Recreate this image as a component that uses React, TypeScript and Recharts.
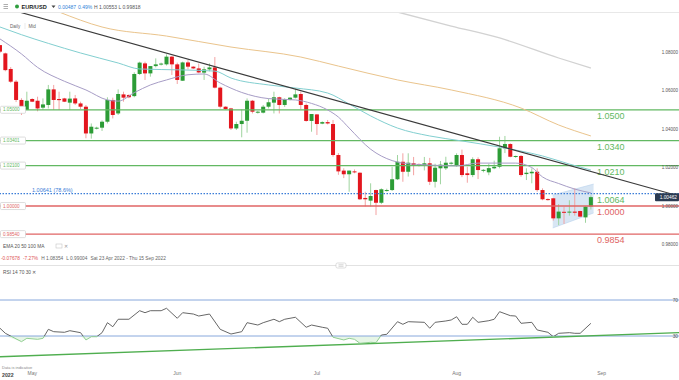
import React from 'react';
import { ComposedChart, Bar, Line, Area, XAxis, YAxis, ReferenceLine } from 'recharts';

// session index: 0 = Sun 24 Apr 2022, six sessions a week (Sun-Fri)
const opens = [
  1.0836, 1.0793, 1.0712, 1.0646, 1.0551, 1.0499, 1.0556, 1.0547, 1.0511, 1.0525,
  1.0606, 1.0556, 1.0559, 1.0537, 1.0559, 1.0533, 1.0516, 1.0377, 1.0405, 1.0407,
  1.0438, 1.0551, 1.0481, 1.0580, 1.0577, 1.0571, 1.0686, 1.0741, 1.0689, 1.0727,
  1.0735, 1.0736, 1.0776, 1.0736, 1.0651, 1.0746, 1.0724, 1.0715, 1.0693, 1.0710,
  1.0720, 1.0615, 1.0516, 1.0507, 1.0403, 1.0426, 1.0443, 1.0547, 1.0485, 1.0485,
  1.0516, 1.0537, 1.0565, 1.0525, 1.0551, 1.0563, 1.0582, 1.0525, 1.0442, 1.0476,
  1.0428, 1.0436, 1.0426, 1.0265, 1.0184, 1.0165, 1.0180, 1.0173, 1.0042, 1.0028,
  1.0083, 1.0017, 1.0078, 1.0083, 1.0139, 1.0230, 1.0178, 1.0222, 1.0218, 1.0210,
  1.0222, 1.0126, 1.0196, 1.0196, 1.0222, 1.0213, 1.0265, 1.0170, 1.0161, 1.0243,
  1.0185, 1.0175, 1.0196, 1.0204, 1.0300, 1.0322, 1.0256, 1.0260, 1.0166, 1.0170,
  1.0178, 1.0083, 1.0036, 1.0040, 0.9936, 0.9970, 0.9966, 0.9971, 0.9974, 0.9941,
  0.99975,
];
const highs = [
  1.08354, 1.0797, 1.0722, 1.0655, 1.0560, 1.0594, 1.0560, 1.0568, 1.0559, 1.0629,
  1.0629, 1.0594, 1.0562, 1.0594, 1.0577, 1.0542, 1.0525, 1.0429, 1.0412, 1.0445,
  1.0565, 1.0563, 1.0606, 1.0594, 1.0580, 1.0695, 1.0750, 1.0750, 1.0727, 1.0767,
  1.0745, 1.0788, 1.0780, 1.0745, 1.0750, 1.0758, 1.0726, 1.0740, 1.0724, 1.0741,
  1.0774, 1.0620, 1.0518, 1.0510, 1.0438, 1.0502, 1.0559, 1.0551, 1.0495, 1.0525,
  1.0559, 1.0594, 1.0568, 1.0560, 1.0565, 1.0611, 1.0594, 1.0533, 1.0478, 1.0478,
  1.0440, 1.0447, 1.0447, 1.0275, 1.0196, 1.0184, 1.0190, 1.0175, 1.0074, 1.0118,
  1.0085, 1.0092, 1.0090, 1.0204, 1.0265, 1.0274, 1.0274, 1.0255, 1.0222, 1.0255,
  1.0250, 1.0220, 1.0234, 1.0256, 1.0230, 1.0274, 1.0293, 1.0204, 1.0253, 1.0253,
  1.0192, 1.0220, 1.0236, 1.0360, 1.0364, 1.0326, 1.0262, 1.0265, 1.0196, 1.0196,
  1.0196, 1.0092, 1.0040, 1.0042, 1.0010, 0.9996, 1.0030, 1.0092, 0.9976, 1.0000,
  1.00553,
];
const lows = [
  1.0795, 1.0700, 1.0640, 1.0540, 1.0473, 1.0499, 1.0540, 1.0492, 1.0499, 1.0507,
  1.0499, 1.0499, 1.0540, 1.0499, 1.0525, 1.0504, 1.0352, 1.0350, 1.0398, 1.0390,
  1.0429, 1.0455, 1.0473, 1.0542, 1.0560, 1.0565, 1.0681, 1.0655, 1.0672, 1.0720,
  1.0730, 1.0730, 1.0681, 1.0634, 1.0650, 1.0710, 1.0712, 1.0690, 1.0655, 1.0700,
  1.0611, 1.0507, 1.0500, 1.0395, 1.0395, 1.0357, 1.0381, 1.0481, 1.0480, 1.0481,
  1.0507, 1.0481, 1.0481, 1.0515, 1.0549, 1.0559, 1.0502, 1.0438, 1.0386, 1.0369,
  1.0425, 1.0424, 1.0256, 1.0162, 1.0145, 1.0074, 1.0170, 1.0031, 0.9998, 0.9997,
  0.9953, 1.0010, 1.0075, 1.0078, 1.0135, 1.0126, 1.0153, 1.0160, 1.0205, 1.0185,
  1.0109, 1.0096, 1.0113, 1.0187, 1.0215, 1.0204, 1.0150, 1.0121, 1.0150, 1.0140,
  1.0175, 1.0160, 1.0191, 1.0196, 1.0275, 1.0253, 1.0250, 1.0152, 1.0135, 1.0118,
  1.0074, 1.0030, 1.0028, 0.9924, 0.99004, 0.9907, 0.9950, 0.9950, 0.9942, 0.9913,
  0.99818,
];
const closes = [
  1.0802, 1.0706, 1.0646, 1.0551, 1.0516, 1.0547, 1.0542, 1.0507, 1.0528, 1.0606,
  1.0551, 1.0550, 1.0542, 1.0558, 1.0533, 1.0516, 1.0377, 1.0412, 1.0407, 1.0438,
  1.0551, 1.0473, 1.0582, 1.0563, 1.0565, 1.0686, 1.0745, 1.0689, 1.0727, 1.0736,
  1.0740, 1.0776, 1.0736, 1.0655, 1.0746, 1.0724, 1.0715, 1.0694, 1.0710, 1.0720,
  1.0615, 1.0516, 1.0504, 1.0403, 1.0426, 1.0443, 1.0547, 1.0490, 1.0490, 1.0516,
  1.0539, 1.0565, 1.0525, 1.0554, 1.0563, 1.0580, 1.0525, 1.0442, 1.0478, 1.0426,
  1.0436, 1.0429, 1.0265, 1.0180, 1.0165, 1.0184, 1.0175, 1.0035, 1.0035, 1.0052,
  1.0017, 1.0087, 1.0083, 1.0139, 1.0230, 1.0178, 1.0225, 1.0213, 1.0210, 1.0222,
  1.0126, 1.0199, 1.0215, 1.0225, 1.0225, 1.0265, 1.0161, 1.0161, 1.0243, 1.0187,
  1.0188, 1.0197, 1.0204, 1.0300, 1.0322, 1.0256, 1.0260, 1.0161, 1.0173, 1.0178,
  1.0083, 1.0035, 1.0031, 0.9936, 0.9971, 0.9965, 0.9971, 0.9965, 0.9945, 0.9997,
  1.00462,
];

// moving averages, read at a few sessions
const ema20Idx = [0, 4, 7, 12, 16, 20, 22, 25, 28, 31, 35, 38, 41, 45, 50, 55, 58, 61, 63, 65, 69, 73, 75, 80, 85, 89, 96, 99, 101, 104, 107, 110];
const ema20Val = [1.0868, 1.0790, 1.0720, 1.0648, 1.0603, 1.0551, 1.0545, 1.0589, 1.0629, 1.0655, 1.0682, 1.0686, 1.0639, 1.0590, 1.0558, 1.0551, 1.0533, 1.0499, 1.0462, 1.0405, 1.0295, 1.0236, 1.0223, 1.0213, 1.0208, 1.0223, 1.0223, 1.0200, 1.0151, 1.0117, 1.0088, 1.0068];
const ema50Idx = [0, 4, 9, 15, 22, 26, 34, 40, 43, 50, 55, 61, 65, 69, 74, 80, 86, 93, 101, 106, 110];
const ema50Val = [1.0930, 1.0890, 1.0845, 1.0795, 1.0743, 1.0712, 1.0707, 1.0701, 1.0665, 1.0629, 1.0613, 1.0587, 1.0530, 1.0468, 1.0405, 1.0364, 1.0338, 1.0306, 1.0260, 1.0218, 1.0187];
const ema100Idx = [11, 19, 31, 43, 56, 63, 74, 84, 97, 104, 110];
const ema100Val = [1.1008, 1.0930, 1.0883, 1.0826, 1.0774, 1.0727, 1.0655, 1.0603, 1.0509, 1.0421, 1.0364];
const ma200Idx = [74, 84, 93, 104, 110];
const ma200Val = [1.1008, 1.0935, 1.0873, 1.0769, 1.0717];

// descending trendline and flag channel
const trendIdx = [3.54, 126.4];
const trendVal = [1.1008, 1.0052];
const flagIdx = [102.9, 110.5];
const flagUpper = [1.0057, 1.0114];
const flagLower = [0.9886, 0.9964];

// horizontal levels
const levelVals = [1.05, 1.03401, 1.021, 1.0, 0.9854];
const levelTexts = ['1.0500', '1.0340', '1.0210', '1.0000', '0.9854'];
const levelColors = ['#62b862', '#62b862', '#62b862', '#e06464', '#e06464'];
const fibVal = 1.00641;
const fibText = '1.00641 (78.6%)';
const fibRightText = '1.0064';

const priceTicks = [0.98, 1.0, 1.02, 1.04, 1.06, 1.08];

// RSI 14
const rsiIdx = [0, 1, 4, 5, 7, 8, 9, 10, 12, 13, 15, 16, 17, 18, 19, 20, 21, 22, 24, 26, 27, 28, 30, 31, 33, 34, 36, 37, 39, 41, 43, 45, 46, 48, 49, 51, 52, 53, 55, 57, 58, 60, 61, 62, 64, 65, 66, 67, 69, 70, 71, 72, 74, 75, 76, 79, 80, 81, 83, 84, 85, 86, 87, 88, 89, 91, 92, 93, 95, 96, 97, 99, 100, 102, 103, 104, 106, 107, 108, 110];
const rsiVal = [38.6, 33.0, 23.7, 27.4, 26.3, 27.4, 37.4, 34.8, 34.1, 35.9, 33.7, 25.6, 29.2, 29.2, 33.7, 44.8, 40.3, 48.6, 48.6, 58.1, 55.9, 58.1, 58.1, 60.8, 49.7, 55.9, 54.4, 52.2, 54.4, 37.4, 32.2, 34.8, 44.8, 42.2, 44.8, 48.6, 45.9, 48.6, 50.8, 39.7, 42.2, 39.7, 38.6, 28.6, 25.6, 27.4, 26.3, 21.9, 23.0, 22.6, 31.1, 31.9, 45.9, 43.0, 45.9, 45.2, 38.6, 45.2, 46.7, 47.8, 51.4, 43.0, 43.0, 50.8, 45.2, 47.0, 48.6, 57.0, 52.6, 52.2, 44.1, 45.2, 36.7, 34.1, 29.2, 33.0, 33.7, 33.0, 33.0, 44.1];
const rsiTrendIdx = [0, 126.4];
const rsiTrendVal = [7.0, 33.7];

const monthTicks = [6, 33, 59, 85, 112];
const monthNames = ['May', 'Jun', 'Jul', 'Aug', 'Sep'];

const X_DOMAIN: [number, number] = [0, 126.4];
const FONT = '"Liberation Sans", Arial, sans-serif';

const candles = opens.map((o, i) => ({ i, open: o, high: highs[i], low: lows[i], close: closes[i] }));
const toPts = (idx: number[], vals: number[]) => idx.map((i, k) => ({ i, v: vals[k] }));
const flagData = flagIdx.map((i, k) => ({ i, lower: flagLower[k], upper: flagUpper[k] }));
const rsiData = toPts(rsiIdx, rsiVal);

const last = candles[candles.length - 1];
const chg = last.close - last.open;

function Candle(props: any) {
  const { x, y, width, height, payload } = props;
  if (!payload || y == null || height == null) return null;
  const { open, high, low, close } = payload;
  const top = Math.min(y, y + height);
  const h = Math.abs(height);
  const k = high > low ? h / (high - low) : 0;
  const py = (v: number) => top + (high - v) * k;
  const up = close >= open;
  const cx = x + width / 2;
  const bTop = py(Math.max(open, close));
  const bH = Math.max(1, py(Math.min(open, close)) - bTop);
  return (
    <g>
      <line x1={cx} x2={cx} y1={top} y2={top + h} stroke={up ? '#9fd49f' : '#f3a2a2'} strokeWidth={1} />
      <rect x={cx - 2} y={bTop} width={4} height={bH} fill={up ? '#2c9c36' : '#e3161e'} />
    </g>
  );
}

const levelLabel = (text: string, color: string, box: string) => (p: any) => {
  const vb = p.viewBox || {};
  const y = vb.y;
  const right = vb.x + vb.width;
  return (
    <g fontFamily={FONT}>
      <rect x={0.5} y={y - 3.5} width={25} height={7} rx={1} fill="#fff" stroke="#d0d0d0" strokeWidth={0.7} />
      <text x={3} y={y + 1.6} fontSize={4.6} fill={color}>{box}</text>
      <text x={right - 82} y={y + 9} fontSize={9} fill={color}>{text}</text>
    </g>
  );
};

const fibLabel = (p: any) => {
  const vb = p.viewBox || {};
  const y = vb.y;
  const right = vb.x + vb.width;
  return (
    <g fontFamily={FONT}>
      <text x={32} y={y - 1.5} fontSize={5.5} fill="#3b7dd8">{fibText}</text>
      <text x={right - 82} y={y + 9} fontSize={9} fill="#62b862">{fibRightText}</text>
    </g>
  );
};

const priceBox = (p: any) => {
  const vb = p.viewBox || {};
  const y = vb.y;
  const right = vb.x + vb.width;
  return (
    <g fontFamily={FONT}>
      <rect x={right - 24} y={y - 4} width={24} height={8} rx={1} fill="#2a3b52" />
      <text x={right - 2} y={y + 1.8} fontSize={4.8} fill="#fff" textAnchor="end">{last.close.toFixed(5)}</text>
    </g>
  );
};

function PriceChart() {
  return (
    <ComposedChart width={679} height={251} data={candles} margin={{ top: 0, right: 0, bottom: 0, left: 0 }}>
      <XAxis type="number" dataKey="i" domain={X_DOMAIN} allowDataOverflow hide />
      <YAxis
        orientation="right"
        mirror
        width={30}
        domain={[0.9704, 1.1008]}
        allowDataOverflow
        ticks={priceTicks}
        tickFormatter={(v: number) => v.toFixed(5)}
        tick={{ fontSize: 4.5, fill: '#555', fontFamily: FONT }}
        axisLine={false}
        tickLine={false}
        tickSize={0}
        tickMargin={1}
      />
      <Area
        data={flagData}
        dataKey={(d: any) => [d.lower, d.upper]}
        type="linear"
        stroke="#b9d2ec"
        strokeWidth={0.6}
        fill="#c7dbf0"
        fillOpacity={0.7}
        isAnimationActive={false}
      />
      {levelVals.map((v, k) => (
        <ReferenceLine
          key={v}
          y={v}
          stroke={levelColors[k]}
          strokeWidth={1.3}
          label={levelLabel(levelTexts[k], levelColors[k], v.toFixed(5))}
        />
      ))}
      <ReferenceLine y={fibVal} stroke="#3b7dd8" strokeWidth={1.2} strokeDasharray="1.5 1.5" label={fibLabel} />
      <Line data={toPts(ma200Idx, ma200Val)} dataKey="v" type="monotone" stroke="#d2d2d2" strokeWidth={1.3} dot={false} isAnimationActive={false} />
      <Line data={toPts(ema100Idx, ema100Val)} dataKey="v" type="monotone" stroke="#eac48c" strokeWidth={1} dot={false} isAnimationActive={false} />
      <Line data={toPts(ema50Idx, ema50Val)} dataKey="v" type="monotone" stroke="#82cfd0" strokeWidth={1} dot={false} isAnimationActive={false} />
      <Line data={toPts(ema20Idx, ema20Val)} dataKey="v" type="monotone" stroke="#a79dc6" strokeWidth={1} dot={false} isAnimationActive={false} />
      <ReferenceLine
        segment={[{ x: trendIdx[0], y: trendVal[0] }, { x: trendIdx[1], y: trendVal[1] }]}
        stroke="#3a3a3a"
        strokeWidth={1.2}
      />
      <Bar dataKey={(d: any) => [d.low, d.high]} barSize={4} shape={(p: any) => <Candle {...p} />} isAnimationActive={false} />
      <ReferenceLine y={last.close} stroke="none" label={priceBox} />
    </ComposedChart>
  );
}

function RsiChart() {
  return (
    <ComposedChart width={679} height={107} data={rsiData} margin={{ top: 0, right: 0, bottom: 0, left: 0 }}>
      <defs>
        <linearGradient id="rsiStroke" x1="0" y1="0" x2="0" y2="90" gradientUnits="userSpaceOnUse">
          <stop offset="0.7" stopColor="#555" />
          <stop offset="0.7" stopColor="#86c986" />
        </linearGradient>
      </defs>
      <XAxis
        type="number"
        dataKey="i"
        domain={X_DOMAIN}
        allowDataOverflow
        ticks={monthTicks}
        interval={0}
        tickFormatter={(v: number) => monthNames[monthTicks.indexOf(v)] || ''}
        height={17}
        axisLine={false}
        tickLine={false}
        tick={{ fontSize: 5, fill: '#777', fontFamily: FONT }}
      />
      <YAxis
        orientation="right"
        mirror
        width={20}
        domain={[0, 100]}
        ticks={[30, 70]}
        tick={{ fontSize: 4.8, fill: '#555', fontFamily: FONT }}
        axisLine={false}
        tickLine={false}
        tickSize={0}
        tickMargin={1}
      />
      <ReferenceLine y={70} stroke="#88a8dc" strokeWidth={1} />
      <ReferenceLine y={30} stroke="#88a8dc" strokeWidth={1} />
      <Area
        dataKey={(d: any) => [Math.min(d.v, 30), 30]}
        type="linear"
        stroke="none"
        fill="#dcf1dc"
        fillOpacity={0.7}
        isAnimationActive={false}
      />
      <ReferenceLine
        segment={[{ x: rsiTrendIdx[0], y: rsiTrendVal[0] }, { x: rsiTrendIdx[1], y: rsiTrendVal[1] }]}
        stroke="#4fae4f"
        strokeWidth={1.4}
      />
      <Line dataKey="v" type="linear" stroke="url(#rsiStroke)" strokeWidth={0.9} dot={false} isAnimationActive={false} />
    </ComposedChart>
  );
}

export default function App() {
  return (
    <div style={{ position: 'fixed', left: 0, top: 0, width: 679, height: 380, background: '#fff', overflow: 'hidden' }}>
      <div style={{ position: 'absolute', left: 0, top: 12 }}>
        <PriceChart />
      </div>
      <div style={{ position: 'absolute', left: 0, top: 273 }}>
        <RsiChart />
      </div>
      <svg width={679} height={380} style={{ position: 'absolute', left: 0, top: 0, pointerEvents: 'none' }} fontFamily={FONT}>
        <line x1={0} x2={679} y1={12.5} y2={12.5} stroke="#e8e8e8" />
        <g stroke="#999" strokeWidth={0.8}>
          <line x1={3.5} x2={8} y1={4.5} y2={4.5} />
          <line x1={3.5} x2={8} y1={6.5} y2={6.5} />
          <line x1={3.5} x2={8} y1={8.5} y2={8.5} />
        </g>
        <circle cx={17} cy={6.5} r={2} fill="#2e9e3e" />
        <text x={21.5} y={8.5} fontSize={5.6} fontWeight="bold" fill="#222">EUR/USD</text>
        <path d="M51.5 5.5 L55.5 5.5 L53.5 8 Z" fill="#444" />
        <text x={58} y={8.5} fontSize={5} fill="#2f7fd8">{chg.toFixed(5)}</text>
        <text x={78} y={8.5} fontSize={5} fill="#2f7fd8">{((chg / last.open) * 100).toFixed(2)}%</text>
        <text x={94} y={8.5} fontSize={5} fill="#555">{`H ${last.high.toFixed(5)}  L ${last.low.toFixed(5)}`}</text>

        <text x={10} y={27.5} fontSize={4.6} fill="#666">Daily</text>
        <line x1={25} x2={25} y1={23} y2={29} stroke="#ddd" strokeWidth={0.6} />
        <text x={28.5} y={27.5} fontSize={4.6} fill="#666">Mid</text>

        <text x={3} y={247.5} fontSize={4.8} fill="#555">EMA  20  50  100    MA</text>
        <rect x={56} y={244} width={6} height={4} fill="none" stroke="#bbb" strokeWidth={0.5} />
        <text x={64} y={247.5} fontSize={4.8} fill="#999">✕</text>
        <text x={1} y={260} fontSize={4.8}>
          <tspan fill="#e05555">-0.07678</tspan>
          <tspan dx={3} fill="#e05555">-7.27%</tspan>
          <tspan dx={3} fill="#666">H 1.08354</tspan>
          <tspan dx={3} fill="#666">L 0.99004</tspan>
          <tspan dx={3} fill="#666">Sat 23 Apr 2022 - Thu 15 Sep 2022</tspan>
        </text>

        <line x1={0} x2={679} y1={265.5} y2={265.5} stroke="#e2e2e2" />
        <rect x={336} y={263} width={10} height={5} rx={1.5} fill="#fff" stroke="#c8c8c8" strokeWidth={0.6} />
        <line x1={338.5} x2={343.5} y1={264.8} y2={264.8} stroke="#aaa" strokeWidth={0.5} />
        <line x1={338.5} x2={343.5} y1={266.3} y2={266.3} stroke="#aaa" strokeWidth={0.5} />

        <text x={3} y={273.5} fontSize={4.8} fill="#555">RSI  14  70  30  ✕</text>

        <text x={2} y={368.5} fontSize={4} fill="#888">Data is indicative</text>
        <text x={2} y={377} fontSize={5.2} fontWeight="bold" fill="#444">2022</text>
      </svg>
    </div>
  );
}
